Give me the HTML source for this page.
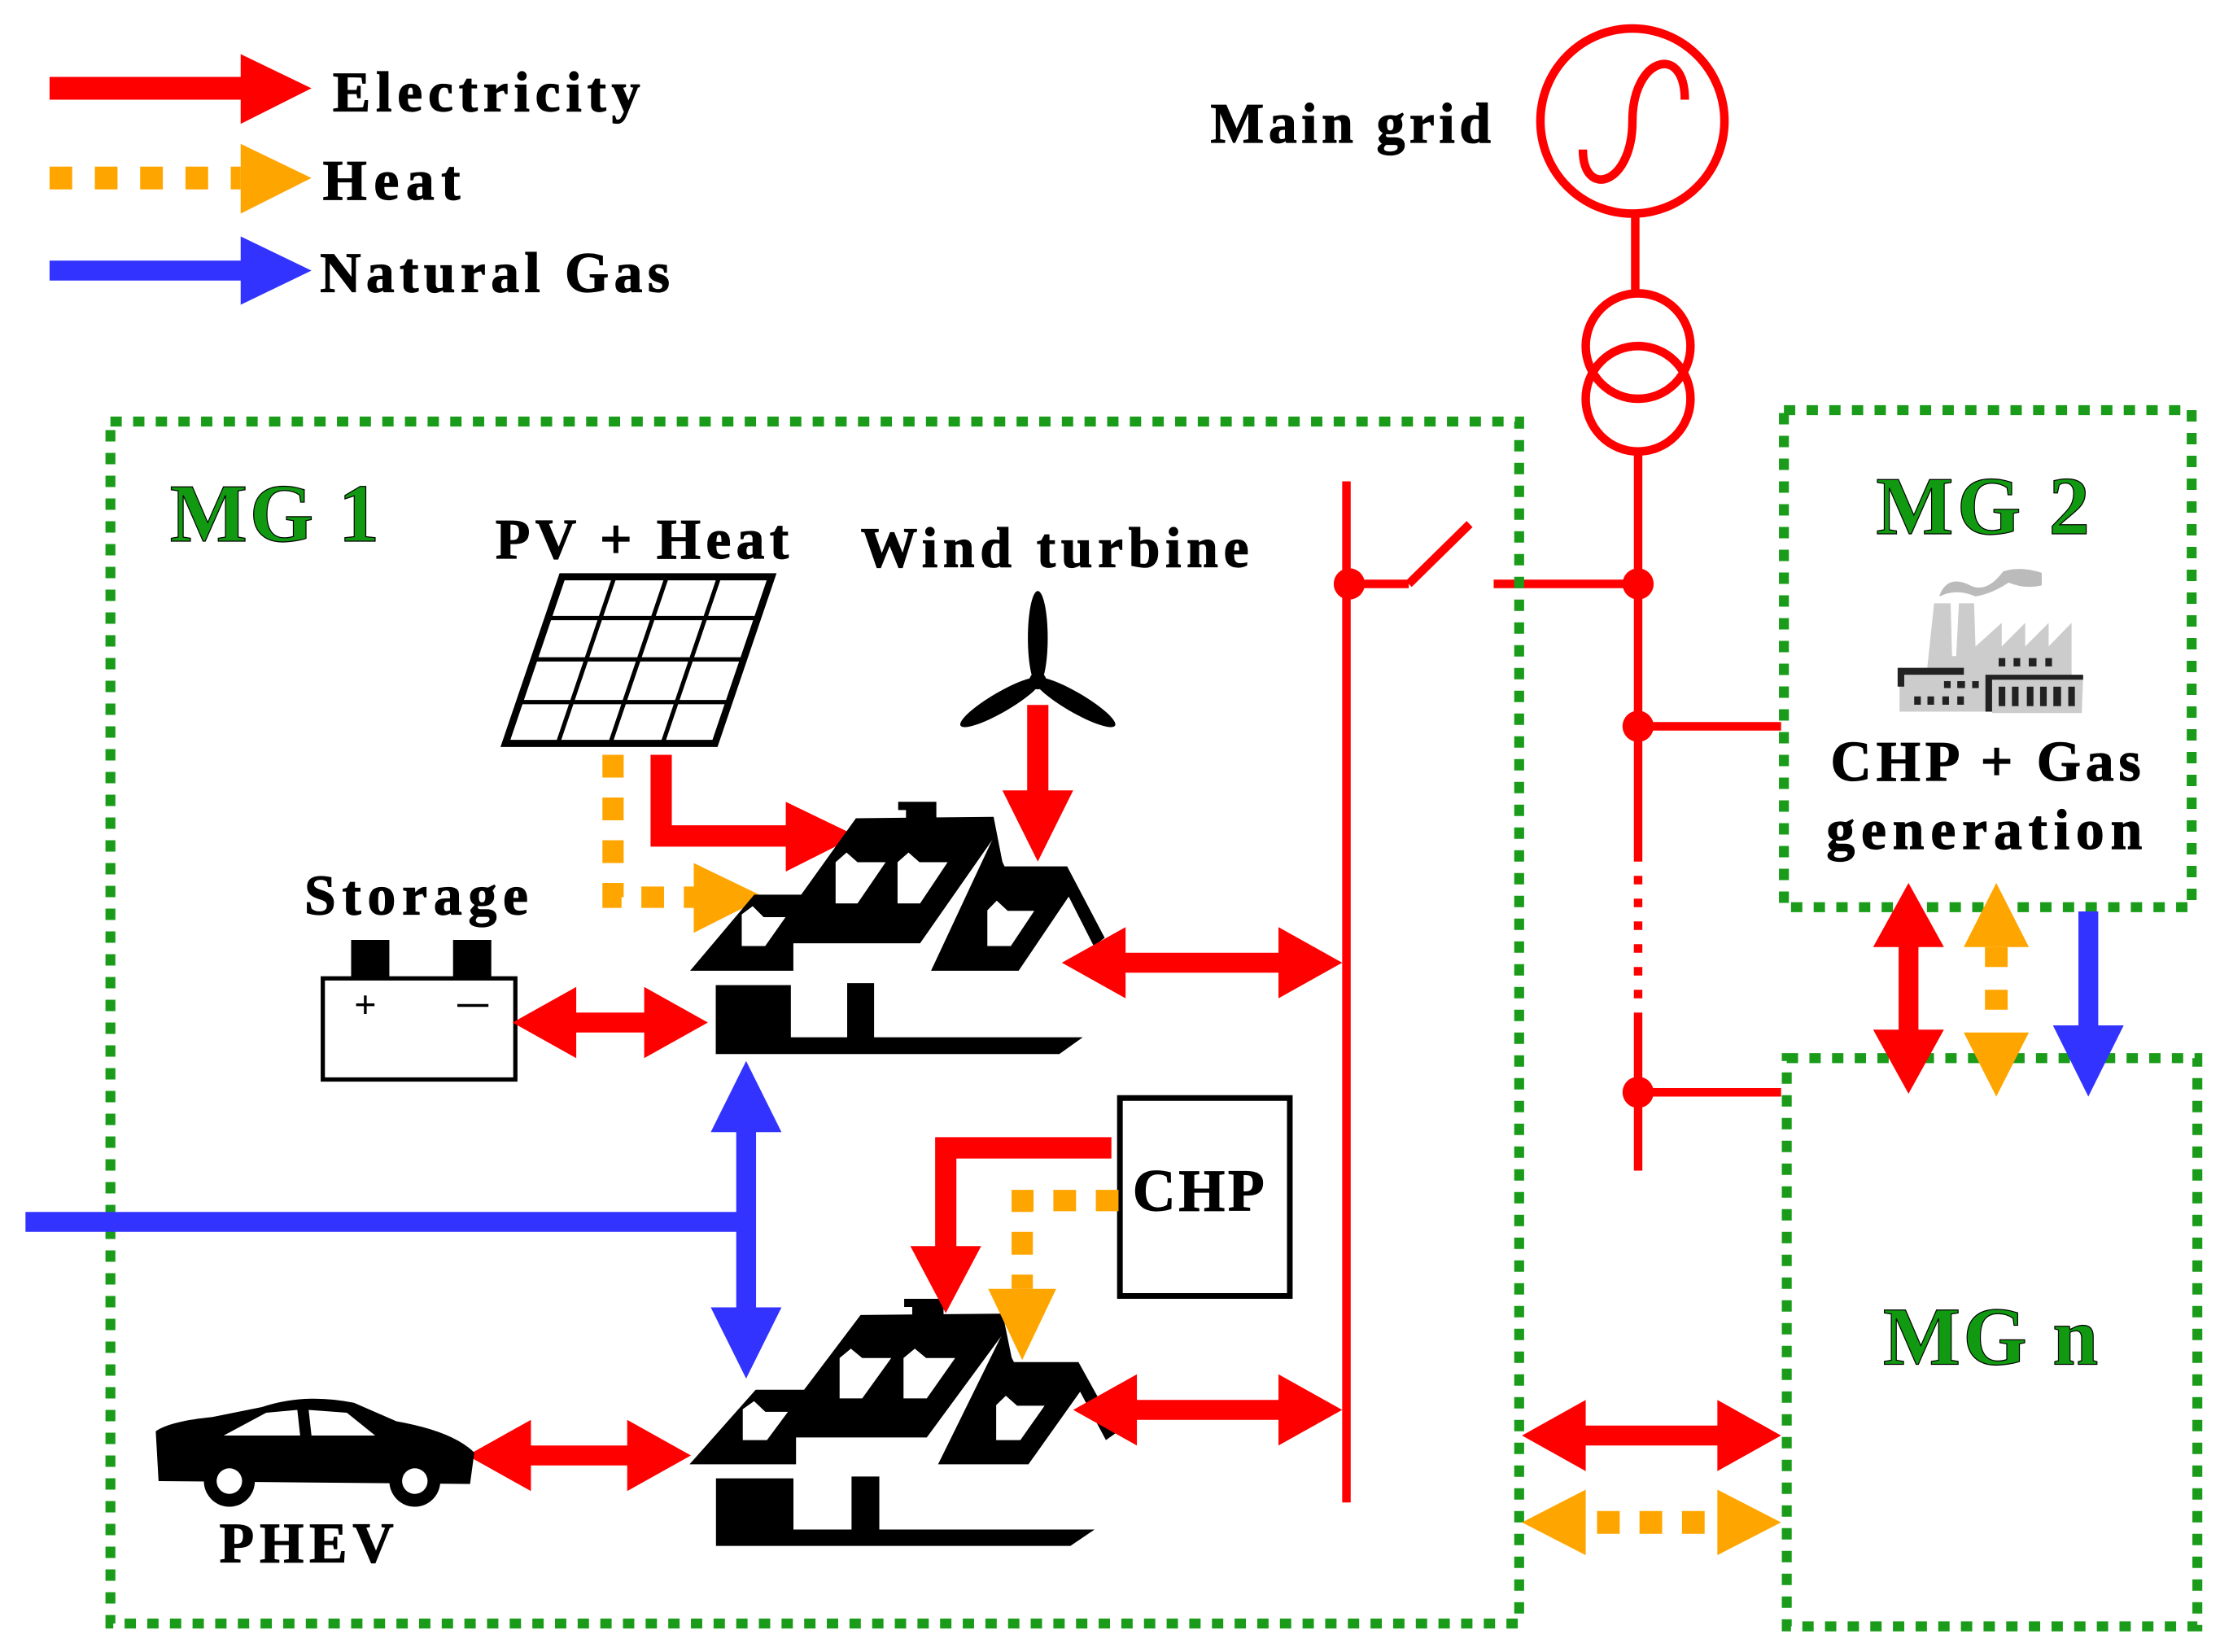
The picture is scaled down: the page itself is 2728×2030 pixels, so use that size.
<!DOCTYPE html>
<html><head><meta charset="utf-8"><style>
html,body{margin:0;padding:0;background:#fff}
svg{display:block}
text{font-family:"Liberation Serif",serif;font-weight:bold;stroke:#000;stroke-width:0.7}
</style></head><body>
<svg width="2728" height="2030" viewBox="0 0 1568 1160" preserveAspectRatio="none" xmlns="http://www.w3.org/2000/svg">
<defs>
<g id="house">
<polygon points="790,90 912,90 912,200 815,200 815,120 790,120"/>
<polygon points="125,705 330,428 480,428 655,150 1095,145 1125,320 1090,230 860,605 455,605 455,705"/>
<polygon points="895,705 1090,230 1130,325 1330,325 1450,585 1415,615 1335,435 1175,705"/>
<g fill="#fff">
<polygon points="590,310 625,275 660,310 750,310 660,460 590,460"/>
<polygon points="788,310 823,275 858,310 948,310 860,460 788,460"/>
<polygon points="290,500 325,470 360,510 430,510 365,615 290,615"/>
<polygon points="1075,485 1105,450 1140,487 1225,487 1150,615 1075,615"/>
</g>
<polygon points="207,757 447,757 447,947 627,947 627,750 713,750 713,947 1380,947 1305,1008 207,1008"/>
</g>
</defs>

<!-- Legend -->
<line x1="35" y1="62" x2="175" y2="62" stroke="#f00" stroke-width="16"/>
<polygon points="170,38 220,62 170,87" fill="#f00"/>
<text x="235" y="78" font-size="40" textLength="217" lengthAdjust="spacing">Electricity</text>
<line x1="35" y1="125" x2="170" y2="125" stroke="#ffa500" stroke-width="16" stroke-dasharray="16,16"/>
<polygon points="170,101 220,125 170,150" fill="#ffa500"/>
<text x="228" y="140" font-size="40" textLength="97" lengthAdjust="spacing">Heat</text>
<line x1="35" y1="190" x2="175" y2="190" stroke="#3333ff" stroke-width="14"/>
<polygon points="170,166 220,190 170,214" fill="#3333ff"/>
<text x="226" y="205" font-size="40" textLength="247" lengthAdjust="spacing">Natural Gas</text>

<!-- Main grid -->
<text x="855" y="100" font-size="40" textLength="198" lengthAdjust="spacing">Main grid</text>
<g stroke="#f00" stroke-width="6" fill="none">
<circle cx="1153" cy="85" r="65"/>
<path d="M1118,105 C1118,140 1153,130 1153,85 C1153,40 1190,30 1190,70"/>
<line x1="1155" y1="150" x2="1155" y2="205"/>
<circle cx="1157" cy="243" r="37"/>
<circle cx="1157" cy="280" r="37"/>
<line x1="1157" y1="318" x2="1157" y2="605"/>
<line x1="1157" y1="615" x2="1157" y2="712" stroke-dasharray="6,10"/>
<line x1="1157" y1="712" x2="1157" y2="822"/>
<line x1="1055" y1="410" x2="1157" y2="410"/>
<line x1="1157" y1="510" x2="1258" y2="510"/>
<line x1="1157" y1="767" x2="1258" y2="767"/>
<line x1="951" y1="338" x2="951" y2="1055"/>
<line x1="953" y1="410" x2="995" y2="410"/>
<line x1="995" y1="410" x2="1038" y2="368"/>
</g>
<g fill="#f00">
<circle cx="1157" cy="410" r="11"/><circle cx="1157" cy="510" r="11"/><circle cx="1157" cy="767" r="11"/><circle cx="953" cy="410" r="11"/>
</g>

<!-- Boxes -->
<g fill="none" stroke="#1a9c1a" stroke-width="7" stroke-dasharray="8,8">
<rect x="78" y="296" width="995" height="844"/>
<rect x="1260" y="288" width="288" height="349"/>
<rect x="1262" y="743" width="290" height="399"/>
</g>
<g fill="#119911" font-size="58" style="stroke:#119911">
<text x="120" y="380" textLength="148" lengthAdjust="spacing">MG 1</text>
<text x="1325" y="375" textLength="151" lengthAdjust="spacing">MG 2</text>
<text x="1330" y="958" textLength="152" lengthAdjust="spacing">MG n</text>
</g>

<!-- PV panel -->
<text x="350" y="392" font-size="40" textLength="207" lengthAdjust="spacing">PV + Heat</text>
<g stroke="#000" stroke-width="5" fill="#fff">
<polygon points="357,522 505,522 545,405 397,405"/>
</g>
<g stroke="#000" stroke-width="3">
<line x1="387" y1="434" x2="535" y2="434"/><line x1="377" y1="463" x2="525" y2="463"/><line x1="367" y1="493" x2="515" y2="493"/>
<line x1="434" y1="405" x2="394" y2="522"/><line x1="471" y1="405" x2="431" y2="522"/><line x1="508" y1="405" x2="468" y2="522"/>
</g>

<!-- Wind turbine -->
<text x="608" y="398" font-size="40" textLength="274" lengthAdjust="spacing">Wind turbine</text>
<g fill="#000">
<ellipse cx="733" cy="448" rx="7" ry="33"/>
<ellipse cx="733" cy="448" rx="7" ry="33" transform="rotate(120 733 478)"/>
<ellipse cx="733" cy="448" rx="7" ry="33" transform="rotate(240 733 478)"/>
<circle cx="733" cy="478" r="6"/>
</g>

<!-- PV arrows -->
<polyline points="467,530 467,587 560,587" fill="none" stroke="#f00" stroke-width="15"/>
<polygon points="555,563 605,587 555,612" fill="#f00"/>
<polyline points="433,530 433,630 490,630" fill="none" stroke="#ffa500" stroke-width="15" stroke-dasharray="16,14"/>
<polygon points="490,606 540,630 490,655" fill="#ffa500"/>
<line x1="733" y1="495" x2="733" y2="560" stroke="#f00" stroke-width="15"/>
<polygon points="708,555 758,555 733,605" fill="#f00"/>

<!-- Houses -->
<use href="#house" transform="translate(459.8,545.6) scale(0.221,0.193)"/>
<use href="#house" transform="translate(458.5,895) scale(0.228,0.189)"/>

<!-- Storage -->
<text x="215" y="642" font-size="40" textLength="158" lengthAdjust="spacing">Storage</text>
<rect x="228" y="687" width="136" height="71" fill="#fff" stroke="#000" stroke-width="3"/>
<rect x="248" y="660" width="27" height="27"/>
<rect x="320" y="660" width="27" height="27"/>
<text x="250" y="715" font-size="28" font-weight="normal" style="stroke-width:0">+</text>
<line x1="323" y1="706" x2="345" y2="706" stroke="#000" stroke-width="2"/>

<!-- red double arrows -->
<g fill="#f00">
<polygon points="362,718 407,693 407,711 455,711 455,693 500,718 455,743 455,725 407,725 407,743"/>
<polygon points="750,676 795,651 795,669 903,669 903,651 948,676 903,701 903,683 795,683 795,701"/>
<polygon points="758,990 803,965 803,983 903,983 903,965 948,990 903,1015 903,997 803,997 803,1015"/>
<polygon points="330,1022 375,997 375,1015 443,1015 443,997 488,1022 443,1047 443,1029 375,1029 375,1047"/>
<polygon points="1075,1008 1120,983 1120,1001 1213,1001 1213,983 1258,1008 1213,1033 1213,1015 1120,1015 1120,1033"/>
<polygon points="1348,620 1323,665 1341,665 1341,723 1323,723 1348,768 1373,723 1355,723 1355,665 1373,665"/>
</g>

<!-- gas -->
<line x1="18" y1="858" x2="527" y2="858" stroke="#3333ff" stroke-width="14"/>
<polygon fill="#3333ff" points="527,745 502,795 520,795 520,918 502,918 527,968 552,918 534,918 534,795 552,795"/>
<line x1="1475" y1="640" x2="1475" y2="725" stroke="#3333ff" stroke-width="14"/>
<polygon fill="#3333ff" points="1450,720 1500,720 1475,770"/>

<!-- orange links -->
<line x1="1120" y1="1069" x2="1213" y2="1069" stroke="#ffa500" stroke-width="16" stroke-dasharray="16,14" stroke-dashoffset="-8"/>
<polygon fill="#ffa500" points="1075,1069 1120,1046 1120,1092"/>
<polygon fill="#ffa500" points="1258,1069 1213,1046 1213,1092"/>
<polygon fill="#ffa500" points="1410,620 1387,665 1433,665"/>
<polygon fill="#ffa500" points="1410,770 1387,725 1433,725"/>
<line x1="1410" y1="665" x2="1410" y2="725" stroke="#ffa500" stroke-width="16" stroke-dasharray="14,16"/>

<!-- CHP -->
<rect x="791" y="771" width="120" height="139" fill="#fff" stroke="#000" stroke-width="4"/>
<text x="800" y="850" font-size="42" textLength="93" lengthAdjust="spacing">CHP</text>
<polyline points="785,806 668,806 668,880" fill="none" stroke="#f00" stroke-width="15"/>
<polygon fill="#f00" points="643,875 693,875 668,922"/>
<polyline points="790,843 722,843 722,905" fill="none" stroke="#ffa500" stroke-width="15" stroke-dasharray="16,14"/>
<polygon fill="#ffa500" points="698,905 746,905 722,955"/>

<!-- Car -->
<g fill="#000">
<path d="M112,1040 L110,1005 Q120,998 150,995 L185,988 Q215,978 250,985 L280,998 Q320,1005 335,1020 L332,1042 Z"/>
<circle cx="162" cy="1040" r="18"/><circle cx="293" cy="1040" r="18"/>
</g>
<g fill="#fff">
<path d="M158,1008 L188,992 L210,990 L212,1008 Z"/>
<path d="M218,990 L245,992 L265,1008 L220,1008 Z"/>
<circle cx="162" cy="1040" r="9"/><circle cx="293" cy="1040" r="9"/>
</g>
<text x="155" y="1097" font-size="40" textLength="123" lengthAdjust="spacing">PHEV</text>

<!-- Factory -->
<g transform="translate(1290,372) scale(0.195,0.195)">
<path d="M410,235 Q440,160 520,200 Q580,230 640,150 Q700,130 780,155 L780,200 Q720,215 660,190 Q600,230 540,240 Q470,210 410,240 Z" fill="#bbb"/>
<polygon fill="#ccc" points="365,500 390,265 450,265 455,455 470,455 480,265 535,265 540,420 635,335 635,420 720,335 720,420 805,335 805,420 888,335 888,525 600,525 600,655 265,655 265,500"/>
<polygon fill="#ccc" points="600,525 930,525 925,660 600,660"/>
<polygon fill="#222" points="258,497 498,497 498,522 282,522 282,565 258,565"/>
<polygon fill="#222" points="576,522 930,522 930,540 600,540 600,655 576,655"/>
<g fill="#222">
<rect x="624" y="462" width="24" height="30"/><rect x="678" y="462" width="24" height="30"/><rect x="733" y="462" width="28" height="30"/><rect x="793" y="462" width="24" height="30"/>
<rect x="426" y="545" width="24" height="25"/><rect x="474" y="545" width="28" height="25"/><rect x="528" y="545" width="24" height="25"/>
<rect x="318" y="600" width="24" height="30"/><rect x="366" y="600" width="24" height="30"/><rect x="420" y="600" width="24" height="30"/><rect x="474" y="600" width="24" height="30"/>
<rect x="624" y="565" width="24" height="70"/><rect x="672" y="565" width="24" height="70"/><rect x="726" y="565" width="24" height="70"/><rect x="774" y="565" width="24" height="70"/><rect x="822" y="565" width="28" height="70"/><rect x="876" y="565" width="24" height="70"/>
</g>
</g>
<text x="1293" y="548" font-size="40" textLength="219" lengthAdjust="spacing">CHP + Gas</text>
<text x="1290" y="596" font-size="40" textLength="223" lengthAdjust="spacing">generation</text>
</svg>
</body></html>
